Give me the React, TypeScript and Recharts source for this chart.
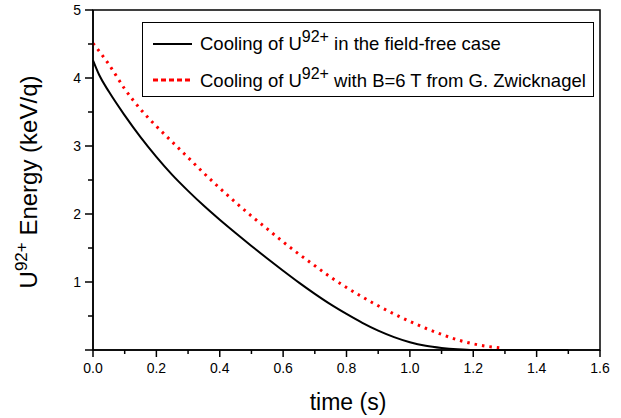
import React from "react";
import { LineChart, Line, XAxis, YAxis, Legend, ReferenceArea } from "recharts";

// field-free cooling curve
const freeTime = [0, 0.02, 0.05, 0.1, 0.15, 0.2, 0.25, 0.3, 0.35, 0.4, 0.45, 0.5, 0.55, 0.6, 0.65, 0.7, 0.75, 0.8, 0.85, 0.9, 0.95, 1.0, 1.05, 1.1, 1.15, 1.2, 1.3, 1.4, 1.5];
const freeEnergy = [4.26, 4.04, 3.8, 3.45, 3.13, 2.84, 2.575, 2.34, 2.12, 1.915, 1.72, 1.53, 1.345, 1.165, 0.99, 0.825, 0.67, 0.53, 0.4, 0.285, 0.19, 0.115, 0.062, 0.03, 0.01, 0, 0, 0, 0];

// B = 6 T cooling curve (G. Zwicknagel)
const fieldTime = [0, 0.05, 0.1, 0.15, 0.2, 0.25, 0.3, 0.35, 0.4, 0.45, 0.5, 0.55, 0.6, 0.65, 0.7, 0.75, 0.8, 0.85, 0.9, 0.95, 1.0, 1.05, 1.1, 1.15, 1.2, 1.25, 1.29];
const fieldEnergy = [4.51, 4.2, 3.84, 3.54, 3.29, 3.06, 2.83, 2.6, 2.38, 2.17, 1.97, 1.78, 1.59, 1.41, 1.24, 1.07, 0.92, 0.78, 0.65, 0.53, 0.42, 0.32, 0.23, 0.15, 0.09, 0.05, 0.03];

const xTicks = [0, 0.1, 0.2, 0.3, 0.4, 0.5, 0.6, 0.7, 0.8, 0.9, 1.0, 1.1, 1.2, 1.3, 1.4, 1.5, 1.6];
const yTicks = [0, 0.5, 1, 1.5, 2, 2.5, 3, 3.5, 4, 4.5, 5];

const freeData = freeTime.map((t, i) => ({ t, e: freeEnergy[i] }));
const fieldData = fieldTime.map((t, i) => ({ t, e: fieldEnergy[i] }));

const FONT = "'Liberation Sans', Arial, sans-serif";

const XTick = (props: any) => {
  const { x, y, payload } = props;
  const major = Math.round(payload.value * 10) % 2 === 0;
  return (
    <g>
      <line x1={x} x2={x} y1={y} y2={y + (major ? 7 : 4)} stroke="#000" strokeWidth={1.5} />
      {major && (
        <text x={x} y={y + 23} textAnchor="middle" fontSize={14} fontFamily={FONT} fill="#000">
          {payload.value.toFixed(1)}
        </text>
      )}
    </g>
  );
};

const YTick = (props: any) => {
  const { x, y, payload } = props;
  const major = Number.isInteger(payload.value);
  return (
    <g>
      <line x1={x} x2={x - (major ? 8 : 5)} y1={y} y2={y} stroke="#000" strokeWidth={1.5} />
      {major && payload.value !== 0 && (
        <text x={x - 12} y={y + 5} textAnchor="end" fontSize={14} fontFamily={FONT} fill="#000">
          {payload.value}
        </text>
      )}
    </g>
  );
};

const YTitle = () => (
  <text transform="translate(37,182) rotate(-90)" textAnchor="middle" fontSize={24} fontFamily={FONT} fill="#000">
    U<tspan dy={-10} fontSize={17}>92+</tspan>
    <tspan dy={10}> Energy (keV/q)</tspan>
  </text>
);

const XTitle = () => (
  <text x={348} y={410} textAnchor="middle" fontSize={23} fontFamily={FONT} fill="#000">
    time (s)
  </text>
);

const LegendBox = () => (
  <svg width={452} height={75} style={{ display: "block" }}>
    <rect x={0.5} y={0.5} width={451} height={74} fill="#fff" stroke="#000" strokeWidth={1} />
    <line x1={11} x2={50} y1={22} y2={22} stroke="#000" strokeWidth={2} />
    <text x={58} y={28} fontSize={18.5} fontFamily={FONT} fill="#000">
      Cooling of U<tspan dy={-8} fontSize={16}>92+</tspan>
      <tspan dy={8}> in the field-free case</tspan>
    </text>
    <line x1={11} x2={50} y1={58} y2={58} stroke="#ff0000" strokeWidth={3} strokeDasharray="5 3" />
    <text x={58} y={65} fontSize={18.5} fontFamily={FONT} fill="#000">
      Cooling of U<tspan dy={-8} fontSize={16}>92+</tspan>
      <tspan dy={8}> with B=6 T from G. Zwicknagel</tspan>
    </text>
  </svg>
);

export default function App() {
  return (
    <div style={{ position: "absolute", left: 0, top: 0, background: "#fff" }}>
      <LineChart width={621} height={418} margin={{ top: 10, right: 21, left: 0, bottom: 0 }}>
        <XAxis
          dataKey="t"
          type="number"
          domain={[0, 1.6]}
          ticks={xTicks}
          height={68}
          tickSize={0}
          tickMargin={0}
          tickLine={false}
          tick={<XTick />}
          axisLine={{ stroke: "#000", strokeWidth: 1.5 }}
          allowDuplicatedCategory={false}
          label={<XTitle />}
        />
        <YAxis
          type="number"
          domain={[0, 5]}
          ticks={yTicks}
          width={93}
          tickSize={0}
          tickMargin={0}
          tickLine={false}
          tick={<YTick />}
          axisLine={{ stroke: "#000", strokeWidth: 1.5 }}
          label={<YTitle />}
        />
        <ReferenceArea x1={0} x2={1.6} y1={0} y2={5} fill="none" stroke="#000" strokeWidth={1.5} />
        <Legend
          layout="vertical"
          align="center"
          verticalAlign="middle"
          content={<LegendBox />}
          wrapperStyle={{ left: 142, top: 22, width: 452, height: 75 }}
        />
        <Line
          data={freeData}
          dataKey="e"
          type="monotone"
          stroke="#000"
          strokeWidth={2}
          dot={false}
          isAnimationActive={false}
        />
        <Line
          data={fieldData}
          dataKey="e"
          type="monotone"
          stroke="#ff0000"
          strokeWidth={3}
          strokeDasharray="2.5 5"
          dot={false}
          isAnimationActive={false}
        />
      </LineChart>
    </div>
  );
}
